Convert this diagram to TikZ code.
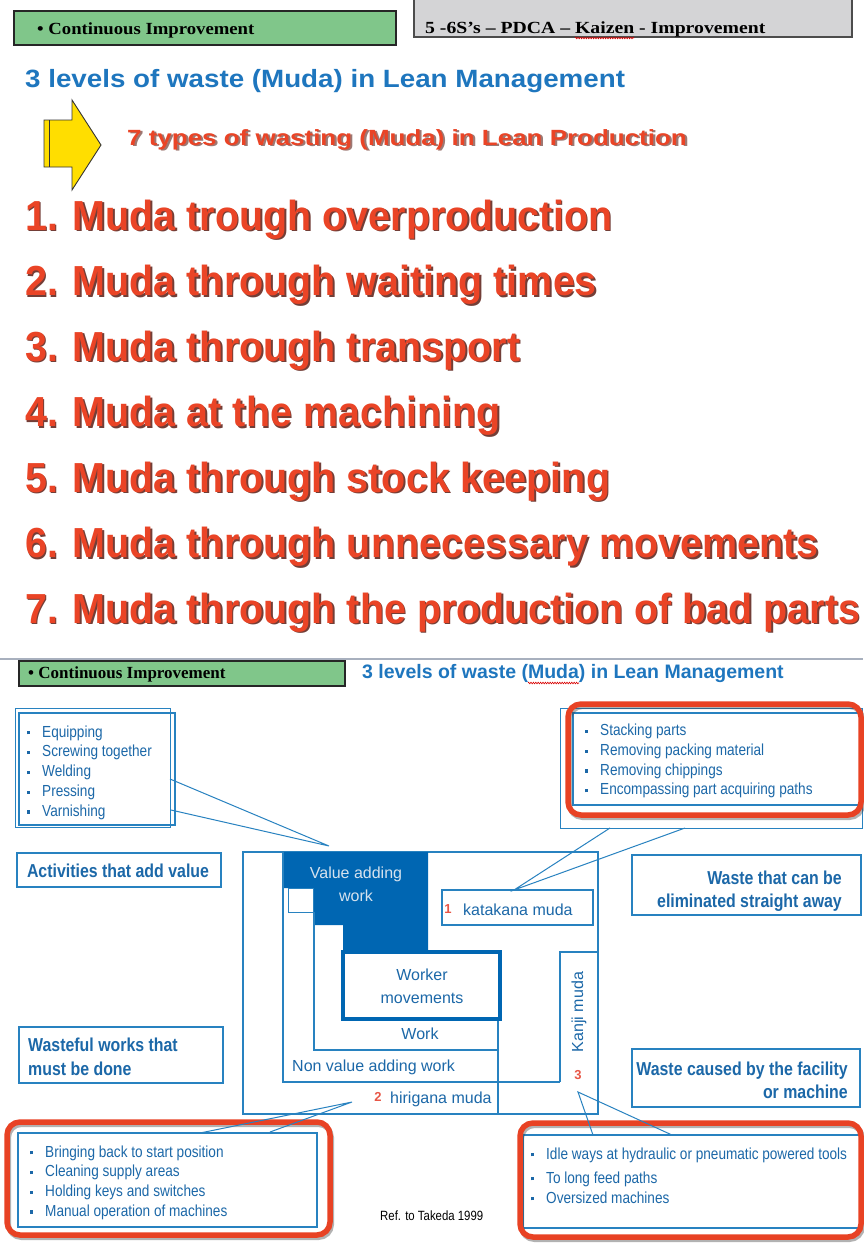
\documentclass[tikz,border=0pt]{standalone}
\usepackage{fontspec}
\usepackage{graphicx}
\usetikzlibrary{decorations.pathmorphing}

\newfontfamily\arialf{Liberation Sans}
\newfontfamily\narrowf[FakeStretch=0.85]{Liberation Sans}
\newfontfamily\romanf{Liberation Serif}

\definecolor{titleblue}{RGB}{30,118,190}
\definecolor{txtblue}{RGB}{28,104,168}
\definecolor{lineblue}{RGB}{40,130,192}
\definecolor{darkfill}{RGB}{0,102,178}
\definecolor{onblue}{RGB}{214,226,238}
\definecolor{mudared}{RGB}{234,68,38}
\definecolor{mudashadow}{RGB}{115,62,55}
\definecolor{boxred}{RGB}{232,66,36}
\definecolor{greenbox}{RGB}{128,198,138}
\definecolor{graybox}{RGB}{212,212,214}
\definecolor{arrowyellow}{RGB}{255,222,0}
\definecolor{numred}{RGB}{232,86,70}
\definecolor{framegray}{RGB}{168,176,190}

% text with a dark drop shadow
\newcommand{\shadowed}[3]{\makebox[0pt][l]{\hspace{1.8pt}\raisebox{-1.8pt}{\textcolor{#2}{#3}}}\textcolor{#1}{#3}}
% the large red items, slightly condensed
\newcommand{\mudaline}[1]{\scalebox{0.94}[1]{\shadowed{mudared}{mudashadow}{#1}}}
% small square bullet followed by the item text
\newcommand{\sqbul}{\makebox[15pt][l]{\raisebox{2.6pt}{\rule{3.2pt}{3.2pt}}}}

\begin{document}
\begin{tikzpicture}[x=1pt,y=-1pt,
  mudaitem/.style={anchor=base west, inner sep=0pt, font=\arialf\bfseries\fontsize{42}{44}\selectfont},
  listline/.style={anchor=base west, inner sep=0pt, font=\narrowf\fontsize{16}{18}\selectfont, text=txtblue},
  boldlabel/.style={inner sep=0pt, font=\narrowf\bfseries\fontsize{18.7}{22}\selectfont, text=txtblue},
  diagtext/.style={inner sep=0pt, font=\arialf\fontsize{16}{18}\selectfont, text=txtblue},
  numtag/.style={inner sep=0pt, font=\arialf\bfseries\fontsize{13}{14}\selectfont, text=numred},
  headtext/.style={anchor=base west, inner sep=0pt, font=\romanf\bfseries\fontsize{17}{18}\selectfont},
  frame/.style={draw=lineblue, line width=1.3pt},
  thinframe/.style={draw=lineblue, line width=1pt},
  labelframe/.style={draw=lineblue, line width=1.8pt},
  redframe/.style={draw=boxred, line width=5.5pt, rounded corners=13pt},
  redshadow/.style={draw=black!75, line width=5pt, rounded corners=13pt, opacity=0.4},
  callout/.style={draw=lineblue, line width=1pt},
  wavy/.style={draw=red!85!black, line width=0.6pt, decorate, decoration={zigzag, amplitude=0.8pt, segment length=2.4pt}},
]
\useasboundingbox (0,0) rectangle (863,1245);
\fill[white] (0,0) rectangle (863,1245);

% ================= first slide =================
\draw[fill=greenbox, draw=black!85, line width=1.2pt] (14,11) rectangle (396,45);
\node[headtext] (ci1) at (37,34) {\scalebox{1.1}[1]{• Continuous Improvement}};

\draw[fill=graybox, draw=black!70, line width=1.5pt] (414,-3) rectangle (852,37);
\node[headtext] (pdca) at (425,33) {\scalebox{1.16}[1]{5 -6S’s – PDCA – Kaizen - Improvement}};
\draw[wavy] (575,38) -- (634,38);

\node[anchor=base west, inner sep=0pt, font=\arialf\bfseries\fontsize{25}{26}\selectfont, text=titleblue]
  (title1) at (25,87) {\scalebox{1.11}[1]{3 levels of waste (Muda) in Lean Management}};

% block arrow
\draw[fill=arrowyellow, draw=black!80, line width=0.9pt]
  (44,120) -- (72,120) -- (72,100) -- (101,145) -- (72,190) -- (72,167) -- (44,167) -- cycle;
\draw[black!80, line width=0.9pt] (49,120) -- (49,167);

\node[anchor=base west, inner sep=0pt, font=\arialf\bfseries\fontsize{22}{24}\selectfont]
  (seven) at (127,145) {\scalebox{1.18}[1]{\shadowed{mudared}{mudashadow!70}{7 types of wasting (Muda) in Lean Production}}};

\node[mudaitem] (item1) at (25,230)   {\mudaline{1. Muda trough overproduction}};
\node[mudaitem] (item2) at (25,295.5) {\mudaline{2. Muda through waiting times}};
\node[mudaitem] (item3) at (25,361)   {\mudaline{3. Muda through transport}};
\node[mudaitem] (item4) at (25,426.5) {\mudaline{4. Muda at the machining}};
\node[mudaitem] (item5) at (25,492)   {\mudaline{5. Muda through stock keeping}};
\node[mudaitem] (item6) at (25,557.5) {\mudaline{6. Muda through unnecessary movements}};
\node[mudaitem] (item7) at (25,623)   {\mudaline{7. Muda through the production of bad parts}};

% ================= second slide =================
\draw[framegray, line width=1.5pt] (0,659) -- (863,659);
\draw[fill=greenbox, draw=black!85, line width=1.2pt] (19,661) rectangle (345,686);
\node[headtext] (ci2) at (28,678) {• Continuous Improvement};
\node[anchor=base west, inner sep=0pt, font=\arialf\bfseries\fontsize{19.5}{21}\selectfont, text=titleblue]
  (title2) at (362,678) {3 levels of waste (Muda) in Lean Management};
\draw[wavy] (528,683) -- (579,683);

% value adding activities list
\draw[thinframe] (15,708) rectangle (170,827);
\draw[labelframe] (19,713) rectangle (175,825);
\node[listline] (va-l1) at (27,737)   {\sqbul Equipping};
\node[listline] (va-l2) at (27,756.8) {\sqbul Screwing together};
\node[listline] (va-l3) at (27,776.6) {\sqbul Welding};
\node[listline] (va-l4) at (27,796.4) {\sqbul Pressing};
\node[listline] (va-l5) at (27,816.2) {\sqbul Varnishing};

% katakana muda list
\draw[thinframe] (560,708) rectangle (862,828);
\draw[frame] (573,713) rectangle (860,805);
\draw[redshadow] (569.5,706.5) rectangle (862.5,817.5);
\draw[redframe] (568,704) rectangle (861,815);
\node[listline] (ka-l1) at (585,735.5) {\sqbul Stacking parts};
\node[listline] (ka-l2) at (585,755.3) {\sqbul Removing packing material};
\node[listline] (ka-l3) at (585,775.1) {\sqbul Removing chippings};
\node[listline] (ka-l4) at (585,794.9) {\sqbul Encompassing part acquiring paths};

% category labels
\draw[labelframe] (17,853) rectangle (221,887);
\node[boldlabel, anchor=base] (act) at (118,877) {Activities that add value};
\draw[labelframe] (632,855) rectangle (861,915);
\node[boldlabel, anchor=base east] (elim1) at (842,884) {Waste that can be};
\node[boldlabel, anchor=base east] (elim2) at (842,907) {eliminated straight away};
\draw[labelframe] (19,1027) rectangle (223,1083);
\node[boldlabel, anchor=base west] (wf1) at (28,1051) {Wasteful works that};
\node[boldlabel, anchor=base west] (wf2) at (28,1075) {must be done};
\draw[labelframe] (632,1049) rectangle (860,1107);
\node[boldlabel, anchor=base east] (fac1) at (848,1075) {Waste caused by the facility};
\node[boldlabel, anchor=base east] (fac2) at (848,1098) {or machine};

% nested work areas
\draw[frame] (243,852) rectangle (598,1114);
\fill[darkfill] (282,852) -- (428,852) -- (428,952) -- (343,952) -- (343,925)
  -- (314,925) -- (314,888) -- (282,888) -- cycle;
\draw[thinframe, fill=white] (288,888) rectangle (313,912);
\draw[frame] (283,852) -- (283,1082) -- (560,1082);
\draw[frame] (560,1082) -- (560,952) -- (598,952);
\draw[frame] (314,912) -- (314,1050) -- (498,1050);
\draw[frame] (498,1019) -- (498,1114);
\draw[draw=darkfill, line width=4pt, fill=white] (343,952) rectangle (500,1019);
\draw[frame] (442,890) rectangle (593,925);

\node[diagtext, anchor=base, text=onblue] (va1) at (356,878) {Value adding};
\node[diagtext, anchor=base, text=onblue] (va2) at (356,901) {work};
\node[numtag] (n1) at (448,909) {1};
\node[diagtext, anchor=base west] (kata) at (463,915) {katakana muda};
\node[diagtext, anchor=base] (wm1) at (422,980) {Worker};
\node[diagtext, anchor=base] (wm2) at (422,1003) {movements};
\node[diagtext, anchor=base] (work) at (420,1039) {Work};
\node[diagtext, anchor=base west] (nva) at (292,1071) {Non value adding work};
\node[numtag] (n2) at (378,1097) {2};
\node[diagtext, anchor=base west] (hira) at (390,1103) {hirigana muda};
\node[diagtext, rotate=90] (kanji) at (579,1012) {Kanji muda};
\node[numtag] (n3) at (578,1075) {3};

% hirigana muda list
\draw[frame] (18,1133) rectangle (317,1227);
\draw[redshadow] (8.5,1124.5) rectangle (331.5,1237.5);
\draw[redframe] (7,1122) rectangle (330,1235);
\node[listline] (hi-l1) at (30,1157)   {\sqbul Bringing back to start position};
\node[listline] (hi-l2) at (30,1176.7) {\sqbul Cleaning supply areas};
\node[listline] (hi-l3) at (30,1196.4) {\sqbul Holding keys and switches};
\node[listline] (hi-l4) at (30,1216.1) {\sqbul Manual operation of machines};

% kanji muda list
\draw[frame] (523,1135) rectangle (860,1228);
\draw[redshadow] (521.5,1125.5) rectangle (862.5,1239.5);
\draw[redframe] (520,1123) rectangle (861,1237);
\node[listline] (kj-l1) at (531,1159) {\sqbul Idle ways at hydraulic or pneumatic powered tools};
\node[listline] (kj-l2) at (531,1183) {\sqbul To long feed paths};
\node[listline] (kj-l3) at (531,1203) {\sqbul Oversized machines};

\node[anchor=base west, inner sep=0pt, font=\narrowf\fontsize{13.4}{14}\selectfont] (ref) at (380,1220) {Ref. to Takeda 1999};

% callout pointers
\coordinate (vaA) at (170,779);
\coordinate (vaB) at (171,810);
\coordinate (vaTip) at (329,846);
\draw[callout] (vaA) -- (vaTip) -- (vaB);
\coordinate (kaA) at (610,828);
\coordinate (kaB) at (685,828);
\coordinate (kaTip) at (514,890);
\draw[callout] (kaA) -- (kaTip) -- (kaB);
\coordinate (hiA) at (200,1133);
\coordinate (hiB) at (270,1132);
\coordinate (hiTip) at (352,1102);
\draw[callout] (hiA) -- (hiTip) -- (hiB);
\coordinate (kjA) at (593,1135);
\coordinate (kjB) at (672,1135);
\coordinate (kjTip) at (578,1092);
\draw[callout] (kjA) -- (kjTip) -- (kjB);
\end{tikzpicture}
\end{document}
